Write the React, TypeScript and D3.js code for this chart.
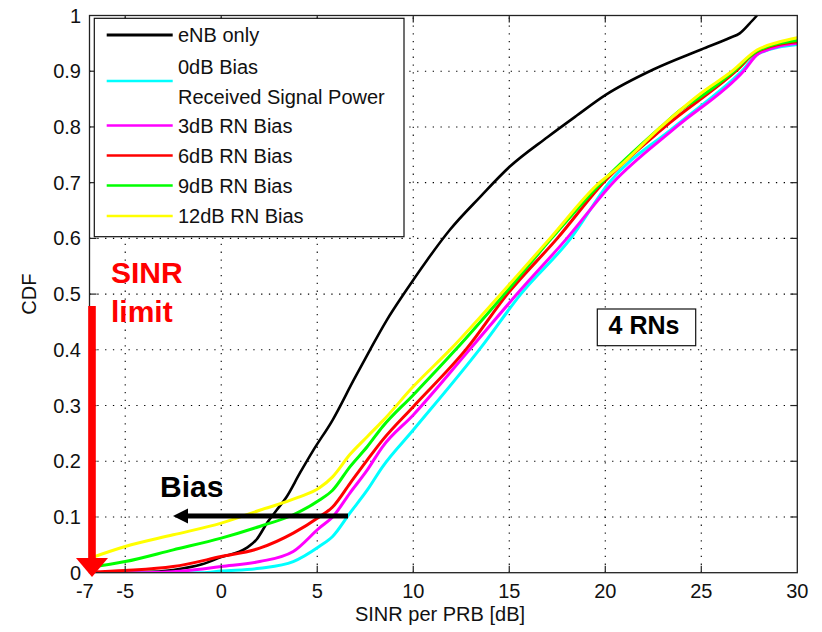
import React from "react";
import * as d3 from "d3";

// ---- data ----
const xTickValues = [-5, 0, 5, 10, 15, 20, 25, 30];
const xExtraLabel = -7;
const yTickValues = [0, 0.1, 0.2, 0.3, 0.4, 0.5, 0.6, 0.7, 0.8, 0.9, 1];
const yTickLabels = ["0", "0.1", "0.2", "0.3", "0.4", "0.5", "0.6", "0.7", "0.8", "0.9", "1"];

const eNBOnly: [number, number][] = [
  [-7, 0], [-4, 0.001], [-2.5, 0.005], [-1, 0.015], [0, 0.028], [1.3, 0.044], [1.85, 0.06],
  [2.4, 0.09], [2.9, 0.113], [3.4, 0.136], [4.1, 0.179], [4.8, 0.22], [5.8, 0.274],
  [6.9, 0.346], [7.75, 0.4], [8.6, 0.452], [9.6, 0.505], [10.7, 0.56], [11.9, 0.615],
  [13.5, 0.675], [15, 0.728], [17, 0.782], [18.5, 0.82], [20, 0.857], [22.5, 0.903],
  [25, 0.939], [26.5, 0.96], [27, 0.968], [27.5, 0.985], [27.9, 1.0],
];
const bias0dB: [number, number][] = [
  [-7, 0], [-1, 0], [0, 0.003], [2, 0.008], [3.75, 0.02], [5.1, 0.047], [5.8, 0.065],
  [6.7, 0.107], [7.6, 0.148], [8.4, 0.19], [10, 0.256], [13.5, 0.403], [15.6, 0.5],
  [18.2, 0.6], [20.2, 0.7], [23.6, 0.8], [27.1, 0.9], [28, 0.932], [30, 0.948],
];
const bias3dB: [number, number][] = [
  [-7, 0], [-4, 0], [-2, 0.003], [0, 0.011], [2, 0.02], [3.75, 0.038], [5.1, 0.08],
  [5.8, 0.1], [6.7, 0.143], [7.6, 0.184], [8.4, 0.226], [10, 0.283], [13.0, 0.403],
  [15.4, 0.5], [18.0, 0.6], [20.4, 0.7], [23.7, 0.8], [27.2, 0.9], [28, 0.932], [30, 0.95],
];
const bias6dB: [number, number][] = [
  [-7, 0.001], [-5, 0.004], [-2.5, 0.011], [0, 0.029], [2, 0.044], [3.75, 0.071],
  [5.1, 0.1], [5.8, 0.118], [6.7, 0.16], [7.6, 0.202], [8.4, 0.238], [10, 0.298],
  [12.8, 0.403], [14.9, 0.5], [17.5, 0.6], [19.9, 0.7], [23.1, 0.8], [26.8, 0.9],
  [27.9, 0.935], [30, 0.953],
];
const bias9dB: [number, number][] = [
  [-7, 0.009], [-5, 0.02], [-2.5, 0.041], [0, 0.062], [2, 0.083], [3.75, 0.104],
  [5.1, 0.13], [5.8, 0.148], [6.7, 0.19], [7.6, 0.226], [8.4, 0.262], [10, 0.319],
  [12.2, 0.4], [14.5, 0.49], [17.2, 0.6], [19.8, 0.7], [22.9, 0.8], [23.9, 0.83],
  [25, 0.855], [26.7, 0.9], [27.9, 0.936], [30, 0.955],
];
const bias12dB: [number, number][] = [
  [-7, 0.024], [-5, 0.047], [-2.5, 0.068], [0, 0.089], [2, 0.112], [4, 0.135],
  [5.1, 0.152], [5.8, 0.172], [6.7, 0.212], [7.6, 0.244], [8.4, 0.272], [10, 0.334],
  [12, 0.403], [14.4, 0.494], [15.2, 0.525], [17.2, 0.603], [19.7, 0.7], [20.5, 0.722],
  [22.9, 0.8], [25, 0.861], [26.6, 0.9], [27.9, 0.938], [29, 0.952], [30, 0.96],
];

const seriesData = [eNBOnly, bias0dB, bias3dB, bias6dB, bias9dB, bias12dB];
const seriesColors = ["#000000", "#00FFFF", "#FF00FF", "#FF0000", "#00FF00", "#FFFF00"];
const legendLabels = [["eNB only"], ["0dB Bias", "Received Signal Power"], ["3dB RN Bias"], ["6dB RN Bias"], ["9dB RN Bias"], ["12dB RN Bias"]];

// ---- layout ----
const W = 822;
const H = 632;
const left = 89.5;
const right = 797.3;
const top = 15.5;
const bottom = 572.7;
const X_MIN = -6.86;
const X_MAX = 30;

const FONT = "'Liberation Sans', Arial, Helvetica, sans-serif";

export default function App() {
  const x = d3.scaleLinear().domain([X_MIN, X_MAX]).range([left, right]);
  const y = d3.scaleLinear().domain([0, 1]).range([bottom, top]);
  const line = d3
    .line<[number, number]>()
    .x((d) => x(d[0]))
    .y((d) => y(d[1]))
    .curve(d3.curveMonotoneX);

  const tickLen = 7;
  const gridX = xTickValues.filter((v) => v < X_MAX);
  const gridY = yTickValues.filter((v) => v > 0 && v < 1);

  // legend layout
  const lgLeft = 94.3, lgTop = 18.3, lgRight = 404, lgBottom = 236.7;
  const lgRowY = [35, 81, 125.5, 155.5, 185.5, 216];
  const lgTwoLine = [66.7, 96.7];

  // annotations
  const redX = 92;
  const redTop = 306;
  const redHeadTop = 558;
  const redTip = 577;
  const biasY = y(0.1) - 1;
  const biasStart = 348;
  const biasTip = 173;

  return (
    <svg
      width={W}
      height={H}
      style={{ position: "absolute", left: 0, top: 0, background: "#fff" }}
      fontFamily={FONT}
    >
      <defs>
        <clipPath id="plotClip">
          <rect x={left} y={top - 2} width={right - left} height={bottom - top + 2} />
        </clipPath>
      </defs>
      <rect x={0} y={0} width={W} height={H} fill="#fff" />

      {/* grid */}
      <g stroke="#000" strokeWidth={1.1} strokeDasharray="1.3,6.5">
        {gridX.map((v) => (
          <line key={"gx" + v} x1={x(v)} x2={x(v)} y1={bottom} y2={top} />
        ))}
        {gridY.map((v) => (
          <line key={"gy" + v} x1={left} x2={right} y1={y(v)} y2={y(v)} />
        ))}
      </g>

      {/* series */}
      <g clipPath="url(#plotClip)" fill="none" strokeLinejoin="round">
        {seriesData.map((s, i) => (
          <path
            key={"s" + i}
            d={line(s) || ""}
            stroke={seriesColors[i]}
            strokeWidth={i === 0 ? 2.6 : 3}
          />
        ))}
      </g>

      {/* axes box and ticks */}
      <rect x={left} y={top} width={right - left} height={bottom - top} fill="none" stroke="#222" strokeWidth={1.3} />
      <g stroke="#222" strokeWidth={1.2}>
        {gridX.map((v) => (
          <g key={"tx" + v}>
            <line x1={x(v)} x2={x(v)} y1={bottom} y2={bottom - tickLen} />
            <line x1={x(v)} x2={x(v)} y1={top} y2={top + tickLen} />
          </g>
        ))}
        {gridY.map((v) => (
          <g key={"ty" + v}>
            <line x1={left} x2={left + tickLen} y1={y(v)} y2={y(v)} />
            <line x1={right} x2={right - tickLen} y1={y(v)} y2={y(v)} />
          </g>
        ))}
      </g>

      {/* tick labels */}
      <g fontSize={20} fill="#111">
        {xTickValues.map((v) => (
          <text key={"lx" + v} x={x(v)} y={598} textAnchor="middle">
            {v < 0 ? "-" + Math.abs(v) : String(v)}
          </text>
        ))}
        <text x={x(xExtraLabel) - 2} y={598} textAnchor="middle">
          {"-" + Math.abs(xExtraLabel)}
        </text>
        {yTickValues.map((v, i) => (
          <text key={"ly" + v} x={81} y={y(v) + 7} textAnchor="end">
            {yTickLabels[i]}
          </text>
        ))}
      </g>

      {/* axis titles */}
      <text x={440} y={621} textAnchor="middle" fontSize={20} fill="#111">
        SINR per PRB [dB]
      </text>
      <text
        transform={`translate(36,${(top + bottom) / 2}) rotate(-90)`}
        textAnchor="middle"
        fontSize={20}
        fill="#111"
      >
        CDF
      </text>

      {/* legend */}
      <rect x={lgLeft} y={lgTop} width={lgRight - lgLeft} height={lgBottom - lgTop} fill="#fff" stroke="#111" strokeWidth={1.2} />
      {legendLabels.map((lab, i) => (
        <g key={"lg" + i}>
          <line
            x1={106.7}
            x2={172.7}
            y1={lgRowY[i]}
            y2={lgRowY[i]}
            stroke={seriesColors[i]}
            strokeWidth={i === 0 ? 3 : 2.6}
          />
          {lab.length === 1 ? (
            <text x={178} y={lgRowY[i] + 7} fontSize={20} fill="#111">
              {lab[0]}
            </text>
          ) : (
            lab.map((t, j) => (
              <text key={j} x={178} y={lgTwoLine[j] + 7} fontSize={20} fill="#111">
                {t}
              </text>
            ))
          )}
        </g>
      ))}

      {/* 4 RNs box */}
      <rect x={597.3} y={309} width={98.4} height={36.7} fill="#fff" stroke="#111" strokeWidth={1.2} />
      <text x={644} y={334} textAnchor="middle" fontSize={25} fontWeight="bold" fill="#000">
        4 RNs
      </text>

      {/* SINR limit arrow */}
      <rect x={redX - 3.8} y={redTop} width={7.6} height={redHeadTop - redTop + 1} fill="#FF0000" />
      <path
        d={`M${redX - 16},${redHeadTop} L${redX + 16},${redHeadTop} L${redX},${redTip} Z`}
        fill="#FF0000"
      />
      <text x={111} y={283} fontSize={30} fontWeight="bold" fill="#FF0000">
        SINR
      </text>
      <text x={111} y={322} fontSize={30} fontWeight="bold" fill="#FF0000">
        limit
      </text>

      {/* Bias arrow */}
      <rect x={biasTip + 14} y={biasY - 2.5} width={biasStart - biasTip - 14} height={5} fill="#000" />
      <path
        d={`M${biasTip},${biasY} L${biasTip + 15},${biasY - 7.5} L${biasTip + 15},${biasY + 7.5} Z`}
        fill="#000"
      />
      <text x={160} y={497} fontSize={30} fontWeight="bold" fill="#000">
        Bias
      </text>
    </svg>
  );
}
